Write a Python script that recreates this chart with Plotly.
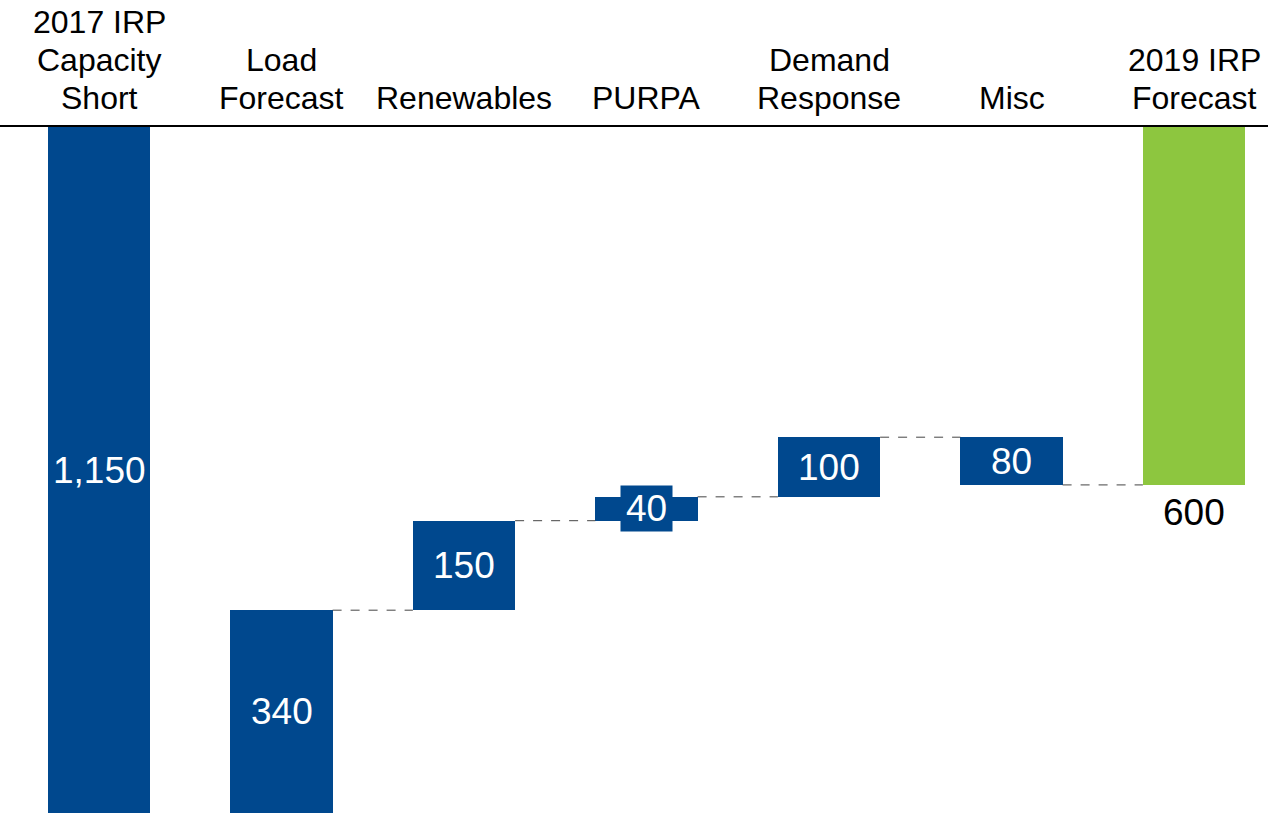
import plotly.graph_objects as go

# Capacity shortfall bridge (MW)
categories = ["2017 IRP<br>Capacity<br>Short", "Load<br>Forecast", "Renewables",
              "PURPA", "Demand<br>Response", "Misc", "2019 IRP<br>Forecast"]
changes = [1150, -340, -150, -40, -100, 80]   # first is the starting total
final_total = 600
value_labels = ["1,150", "340", "150", "40", "100", "80", "600"]

BLUE = "#00488E"
GREEN = "#8DC63F"
BAR_W = 0.56
FONT = "Liberation Sans, Arial, sans-serif"
HEADER_SIZE = 32
HEADER_LINE = 38     # px between header lines
VALUE_SIZE = 37

# cumulative levels after each step
levels = []
running = 0
for c in changes:
    running += c
    levels.append(running)

x = list(range(len(categories)))
bases, heights = [], []
prev = 0
for i, c in enumerate(changes):
    lo, hi = (0, c) if i == 0 else (min(prev, prev + c), max(prev, prev + c))
    bases.append(lo)
    heights.append(hi - lo)
    prev = prev + c if i else c
bases.append(0)
heights.append(final_total)

colors = [BLUE] * len(changes) + [GREEN]

fig = go.Figure()
fig.add_trace(go.Bar(
    x=x, y=heights, base=bases, width=BAR_W,
    marker=dict(color=colors, line=dict(width=0)),
    hoverinfo="skip", showlegend=False,
))

# dashed connectors between consecutive bars
for i in range(1, len(categories) - 1):
    lvl = levels[i]
    fig.add_trace(go.Scatter(
        x=[x[i] + BAR_W / 2, x[i + 1] - BAR_W / 2], y=[lvl, lvl],
        mode="lines", line=dict(color="#444444", width=1, dash="dash"),
        hoverinfo="skip", showlegend=False,
    ))

annotations = []
# category headers above the top rule, one annotation per line
for xi, cat in zip(x, categories):
    lines = cat.split("<br>")
    for k, line in enumerate(reversed(lines)):
        annotations.append(dict(
            x=xi, y=1, xref="x", yref="paper", yanchor="middle", xanchor="center",
            text=line, showarrow=False, yshift=29 + HEADER_LINE * k,
            font=dict(family=FONT, size=HEADER_SIZE, color="#000000"),
        ))

# value labels
for i, lab in enumerate(value_labels):
    if i < len(value_labels) - 1:
        mid = bases[i] + heights[i] / 2
        ann = dict(x=x[i], y=mid, xref="x", yref="y", text=lab, showarrow=False,
                   font=dict(family=FONT, size=VALUE_SIZE, color="#FFFFFF"))
        if heights[i] < 60:
            ann.update(bgcolor=BLUE, width=51, height=45, borderpad=0)
        annotations.append(ann)
    else:
        annotations.append(dict(
            x=x[i], y=final_total, xref="x", yref="y", text=lab, showarrow=False,
            yanchor="middle", yshift=-28,
            font=dict(family=FONT, size=VALUE_SIZE, color="#000000"),
        ))

fig.update_layout(
    width=1268, height=813,
    margin=dict(l=0, r=0, t=127, b=0),
    paper_bgcolor="white", plot_bgcolor="white",
    bargap=0,
    xaxis=dict(range=[-0.5425, 6.4055], showgrid=False, zeroline=False,
               showticklabels=False, showline=True, side="top",
               linecolor="#000000", linewidth=2, ticks=""),
    yaxis=dict(range=[1150, 0], showgrid=False, zeroline=False,
               showticklabels=False, showline=False, ticks=""),
    annotations=annotations,
)

fig.write_html("out.html")
